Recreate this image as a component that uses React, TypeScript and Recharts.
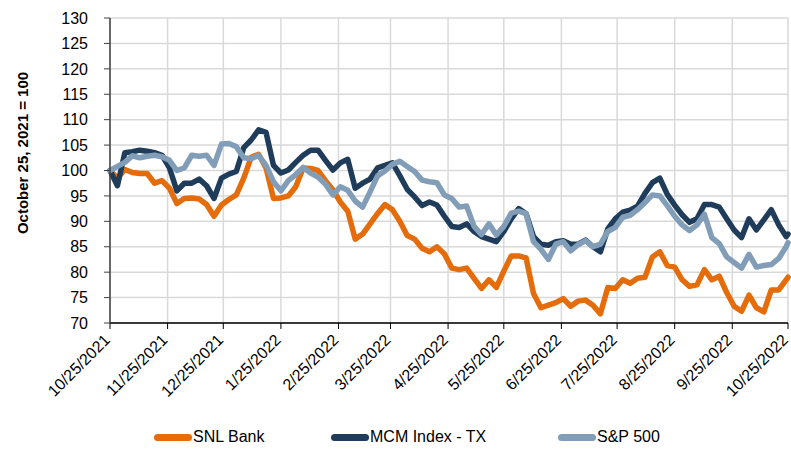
import React from 'react';
import { LineChart, Line, XAxis, YAxis, CartesianGrid, Legend } from 'recharts';

// days since 10/25/2021
const days = [
  0, 4, 8, 12, 16, 20, 24, 28, 32, 36, 40, 44, 48, 52, 56, 60, 64, 68, 72, 76,
  80, 84, 88, 92, 96, 100, 104, 108, 112, 116, 120, 124, 128, 132, 136, 140, 144, 148, 152, 156,
  160, 164, 168, 172, 176, 180, 184, 188, 192, 196, 200, 204, 208, 212, 216, 220, 224, 228, 232, 236,
  240, 244, 248, 252, 256, 260, 264, 268, 272, 276, 280, 284, 288, 292, 296, 300, 304, 308, 312, 316,
  320, 324, 328, 332, 336, 340, 344, 348, 352, 356, 360, 364, 365,
];

const snlBank = [
  100, 98.5, 100.2, 99.6, 99.4, 99.4, 97.5, 98, 96.5, 93.5,
  94.5, 94.6, 94.4, 93.3, 91, 93.2, 94.3, 95.2, 98.5, 102.6,
  103.2, 100.5, 94.5, 94.6, 95, 96.8, 100.5, 100.4, 100, 98,
  96.2, 93.8, 92, 86.5, 87.5, 89.5, 91.5, 93.3, 92.3, 90,
  87.2, 86.5, 84.7, 84, 85, 83.6, 80.8, 80.5, 80.8, 78.8,
  76.8, 78.5, 77, 80.2, 83.2, 83.2, 82.8, 75.8, 73, 73.5,
  74, 74.8, 73.3, 74.3, 74.5, 73.5, 71.8, 77, 76.8, 78.5,
  77.8, 78.8, 79, 83, 84, 81.3, 81, 78.5, 77.2, 77.5,
  80.5, 78.5, 79.2, 76, 73.3, 72.3, 75.5, 73, 72.2, 76.5,
  76.5, 78.5, 79,
];

const mcmTx = [
  100, 97, 103.5, 103.7, 104, 103.8, 103.5, 103, 100.5, 96,
  97.5, 97.5, 98.3, 97, 94.5, 98.5, 99.3, 99.8, 104.5, 106,
  108, 107.5, 101, 99.5, 100.1, 101.6, 103, 104, 104, 102,
  100.1, 101.5, 102.2, 96.5, 97.5, 98.3, 100.5, 101, 101.5, 99,
  96.3, 94.8, 93.1, 93.8, 93.2, 91, 89, 88.8, 89.5, 88,
  87, 86.5, 86, 88, 90.5, 92.5, 91.5, 87, 85.5, 85.3,
  86, 86.2, 85.5, 85.5, 86.3, 85, 84, 88.5, 90.5, 91.8,
  92.2, 93, 95.5, 97.6, 98.5, 95.3, 93.2, 91.3, 89.8, 90.5,
  93.3, 93.3, 92.8, 90.5, 88.3, 86.8, 90.5, 88.3, 90.3, 92.3,
  89.3, 87, 87.5,
];

const sp500 = [
  100, 100.8, 101.6, 102.9, 102.5, 102.8, 103, 102.7, 102, 100,
  100.5, 103, 102.8, 103, 101, 105.2, 105.3, 104.7, 102.5, 102.3,
  103, 101, 97.8, 96, 98, 99.2, 100.6, 99.5, 98.7, 97.3,
  95.2, 96.8, 96.1, 94, 92.8, 95.8, 98.9, 99.9, 101.2, 101.8,
  100.8, 99.8, 98.1, 97.8, 97.6, 95.2, 94.5, 92.8, 93, 89,
  87.4, 89.5, 87.3, 89, 91.6, 92, 91.5, 86, 84.5, 82.5,
  85.5, 86, 84.2, 85.4, 86.2, 85, 85.5, 88, 88.8, 90.8,
  91.2, 92.3, 93.7, 95.2, 95, 93.1, 91, 89.3, 88.2, 89.3,
  91.4, 86.8, 85.6, 83, 81.9, 80.8, 83.5, 81, 81.3, 81.5,
  82.7, 85, 85.8,
];

const tickDays = [0, 31, 61, 92, 123, 151, 182, 212, 243, 273, 304, 335, 365];
const tickLabels = [
  '10/25/2021', '11/25/2021', '12/25/2021', '1/25/2022', '2/25/2022', '3/25/2022', '4/25/2022',
  '5/25/2022', '6/25/2022', '7/25/2022', '8/25/2022', '9/25/2022', '10/25/2022',
];
const yTicks = [70, 75, 80, 85, 90, 95, 100, 105, 110, 115, 120, 125, 130];

const series = [
  { key: 'snl', name: 'SNL Bank', color: '#E46C0A' },
  { key: 'mcm', name: 'MCM Index - TX', color: '#1F3D5B' },
  { key: 'sp', name: 'S&P 500', color: '#819DB7' },
];

const data = days.map((d, i) => ({ d, snl: snlBank[i], mcm: mcmTx[i], sp: sp500[i] }));

const FONT = '"Liberation Sans", Arial, sans-serif';

const DateTick = (props: any) => {
  const { x, y, payload } = props;
  const label = tickLabels[tickDays.indexOf(payload.value)];
  const ax = x + 1;
  const ay = y + 10;
  return (
    <text
      x={ax}
      y={ay}
      transform={`rotate(-45, ${ax}, ${ay})`}
      textAnchor="end"
      fontSize={16}
      fontFamily={FONT}
      fill="#000"
    >
      {label}
    </text>
  );
};

const legendLeft = [154, 331, 558];

const LegendBox = () => (
  <div style={{ position: 'relative', height: 39, fontFamily: FONT, fontSize: 16, color: '#000' }}>
    {series.map((s, i) => (
      <div key={s.key} style={{ position: 'absolute', left: legendLeft[i], top: 15, display: 'flex', alignItems: 'center' }}>
        <div style={{ width: 38, height: 7, borderRadius: 4, backgroundColor: s.color }} />
        <span style={{ marginLeft: 1 }}>{s.name}</span>
      </div>
    ))}
  </div>
);

export default function App() {
  return (
    <div style={{ position: 'absolute', left: 0, top: 0, width: 791, height: 452, background: '#fff' }}>
      <LineChart width={791} height={452} data={data} margin={{ top: 18, right: 3, bottom: 0, left: 0 }}>
        <CartesianGrid stroke="#d9d9d9" strokeWidth={1.5} />
        <XAxis
          dataKey="d"
          type="number"
          domain={[0, 365]}
          ticks={tickDays}
          interval={0}
          height={90}
          tickSize={6}
          tickLine={{ stroke: '#000' }}
          axisLine={{ stroke: '#000', strokeWidth: 1.5 }}
          tick={<DateTick />}
        />
        <YAxis
          type="number"
          domain={[70, 130]}
          ticks={yTicks}
          interval={0}
          width={110}
          tickSize={6}
          tickMargin={16}
          tickLine={{ stroke: '#404040' }}
          axisLine={{ stroke: '#404040', strokeWidth: 1.5 }}
          tick={{ fontSize: 16, fontFamily: FONT, fill: '#000' }}
        />
        <Legend verticalAlign="bottom" height={39} content={<LegendBox />} />
        {series.map((s) => (
          <Line
            key={s.key}
            type="linear"
            dataKey={s.key}
            name={s.name}
            stroke={s.color}
            strokeWidth={5.5}
            strokeLinejoin="round"
            strokeLinecap="round"
            dot={false}
            activeDot={false}
            isAnimationActive={false}
          />
        ))}
        <text
          x={22}
          y={153}
          transform="rotate(-90, 22, 153)"
          textAnchor="middle"
          dominantBaseline="central"
          fontSize={15}
          fontWeight="bold"
          fontFamily={FONT}
          fill="#000"
        >
          October 25, 2021 = 100
        </text>
      </LineChart>
    </div>
  );
}
